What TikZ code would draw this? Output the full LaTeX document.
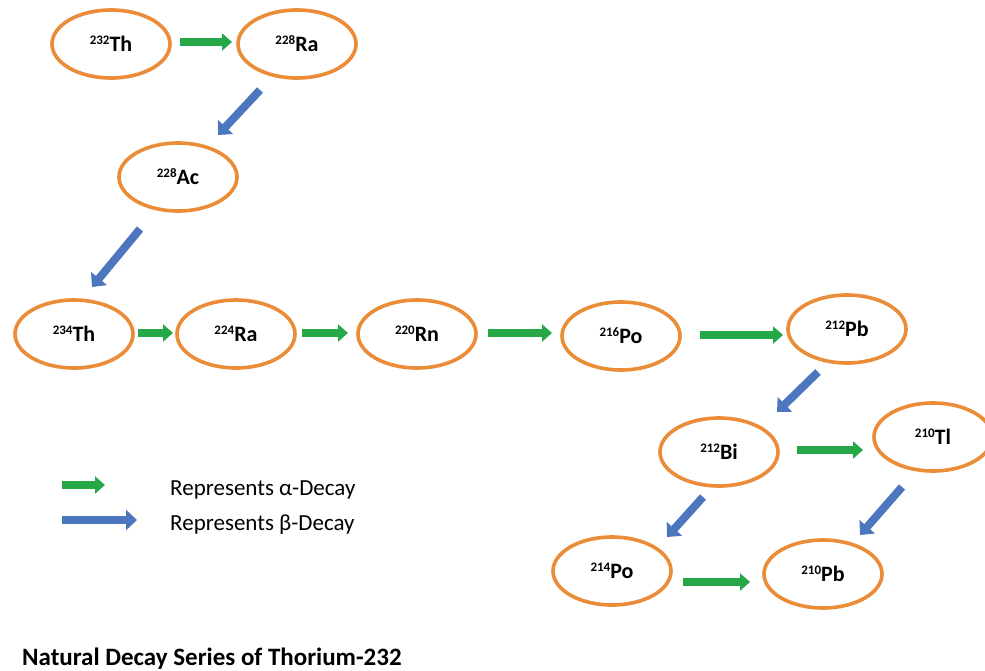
\documentclass[tikz,border=0pt]{standalone}
\usepackage{fontspec}
\setmainfont{Carlito}
\usetikzlibrary{arrows.meta,calc,shapes.geometric}
\definecolor{ringorange}{RGB}{234,140,56}
\definecolor{alphagreen}{RGB}{38,168,72}
\definecolor{betablue}{RGB}{76,118,190}
\tikzset{
  nuc/.style={ellipse,draw=ringorange,line width=3.6pt,minimum width=118pt,minimum height=68pt,inner sep=0pt,outer sep=0pt,font=\fontsize{22}{24}\selectfont\bfseries},
  alphaarr/.style={draw=alphagreen,line width=7.5pt,-{Triangle[length=10pt,width=17pt]}},
  betaarr/.style={draw=betablue,line width=8pt,-{Triangle[length=11pt,width=20pt]}},
  legendtext/.style={font=\fontsize{23}{26}\selectfont,anchor=base west,inner sep=0pt},
}
\newcommand{\iso}[2]{\raisebox{7pt}{\fontsize{13}{13}\selectfont #1}#2}
\begin{document}
\begin{tikzpicture}[x=1pt,y=-1pt]
\useasboundingbox (0,0) rectangle (985,670);
\fill[white] (0,0) rectangle (985,670);
\begin{scope}
\clip (0,0) rectangle (985,670);
\node[nuc] (th232) at (111,44) {\iso{232}{Th}};
\node[nuc] (ra228) at (297,44) {\iso{228}{Ra}};
\node[nuc] (ac228) at (178,177) {\iso{228}{Ac}};
\node[nuc] (th234) at (74,334) {\iso{234}{Th}};
\node[nuc] (ra224) at (236,334) {\iso{224}{Ra}};
\node[nuc] (rn220) at (417,334) {\iso{220}{Rn}};
\node[nuc] (po216) at (621,336) {\iso{216}{Po}};
\node[nuc] (pb212) at (847,329) {\iso{212}{Pb}};
\node[nuc] (bi212) at (719,452) {\iso{212}{Bi}};
\node[nuc] (tl210) at (933,437) {\iso{210}{Tl}};
\node[nuc] (po214) at (612,571) {\iso{214}{Po}};
\node[nuc] (pb210) at (823,574) {\iso{210}{Pb}};
\end{scope}

\draw[alphaarr] ($(th232)+(69,-2)$) -- ($(ra228)+(-65,-2)$);
\draw[betaarr] ($(ra228)+(-37,46)$) -- ($(ac228)+(40,-42)$);
\draw[betaarr] ($(ac228)+(-38,52)$) -- ($(th234)+(18,-47)$);
\draw[alphaarr] ($(th234)+(64,-1)$) -- ($(ra224)+(-63,-1)$);
\draw[alphaarr] ($(ra224)+(66,-1)$) -- ($(rn220)+(-69,-1)$);
\draw[alphaarr] ($(rn220)+(71,-1)$) -- ($(po216)+(-69,-3)$);
\draw[alphaarr] ($(po216)+(79,-1)$) -- ($(pb212)+(-64,6)$);
\draw[betaarr] ($(pb212)+(-29,43)$) -- ($(bi212)+(58,-40)$);
\draw[alphaarr] ($(bi212)+(78,-2)$) -- ($(tl210)+(-70,13)$);
\draw[betaarr] ($(bi212)+(-16,45)$) -- ($(po214)+(55,-34)$);
\draw[betaarr] ($(tl210)+(-31,50)$) -- ($(pb210)+(37,-39)$);
\draw[alphaarr] ($(po214)+(71,11)$) -- ($(pb210)+(-73,8)$);

\coordinate (lga) at (62,485);
\coordinate (lgb) at (105,485);
\coordinate (lba) at (62,520);
\coordinate (lbb) at (137,520);
\draw[alphaarr] (lga) -- (lgb);
\draw[betaarr] (lba) -- (lbb);
\node[legendtext] (ltxa) at (170,495) {Represents α-Decay};
\node[legendtext] (ltxb) at (170,530) {Represents β-Decay};
\node[anchor=base west,inner sep=0pt,font=\fontsize{25}{28}\selectfont\bfseries] (title) at (22,665) {Natural Decay Series of Thorium-232};
\end{tikzpicture}
\end{document}
